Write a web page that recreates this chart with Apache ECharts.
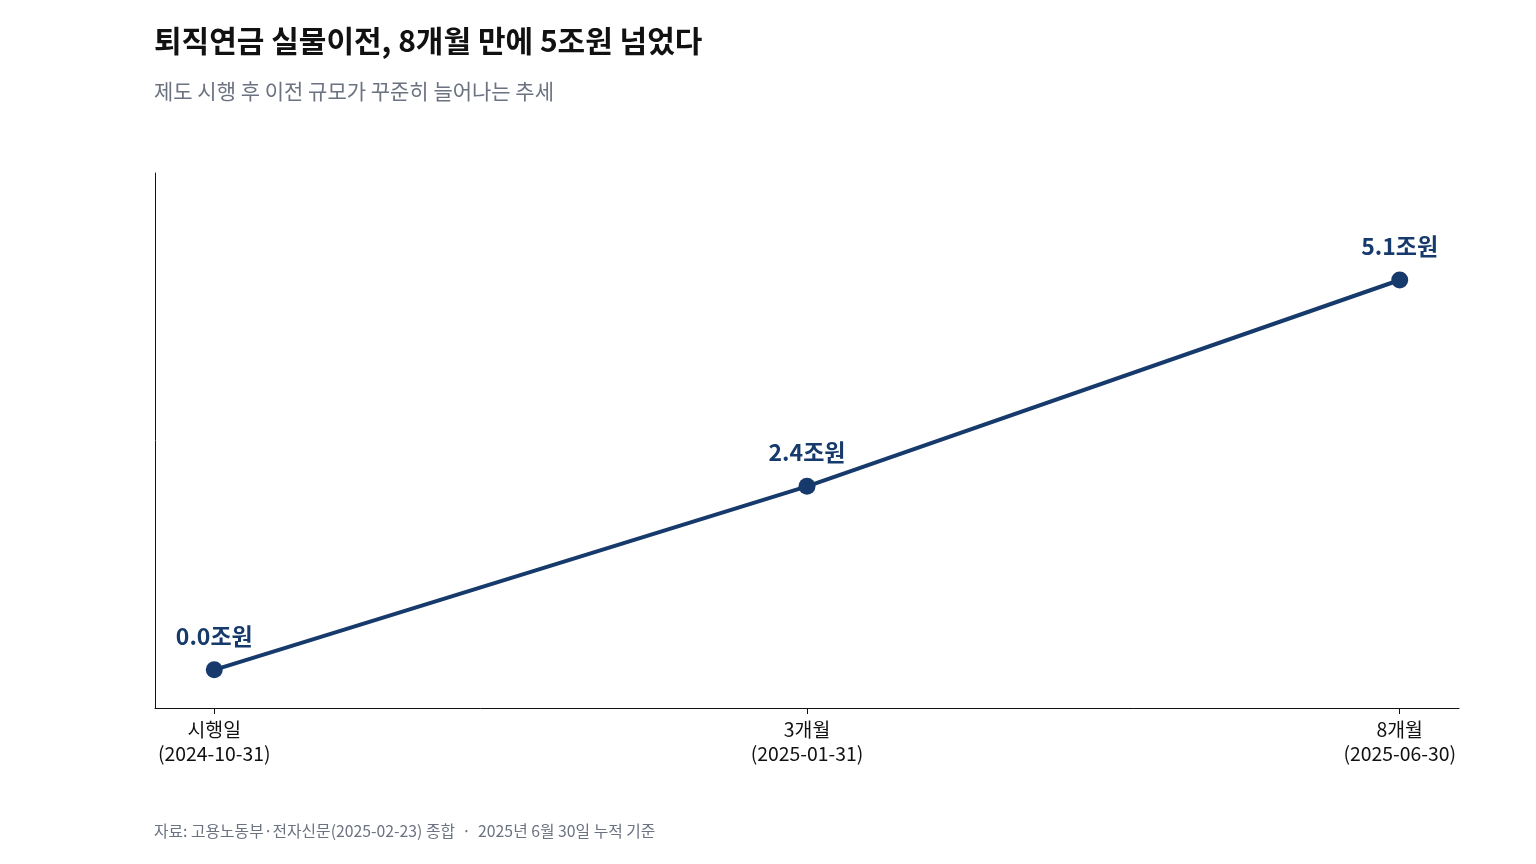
<!DOCTYPE html>
<html>
<head>
<meta charset="utf-8">
<script src="https://cdn.jsdelivr.net/npm/echarts@6/dist/echarts.min.js"></script>
<style>
  html, body { margin: 0; padding: 0; background: #fff; }
  #chart { width: 1536px; height: 864px; }
</style>
</head>
<body>
<div id="chart"></div>
<script>
// 퇴직연금 실물이전 누적 규모
const categories = ['시행일\n(2024-10-31)', '3개월\n(2025-01-31)', '8개월\n(2025-06-30)'];
const values = [0.0, 2.4, 5.1];

const navy = '#163a6b';
const font = '"Noto Sans CJK KR", "Noto Sans", sans-serif';

const chart = echarts.init(document.getElementById('chart'));

const option = {
  backgroundColor: '#fff',
  textStyle: { fontFamily: font },
  title: [{
    text: '퇴직연금 실물이전, 8개월 만에 5조원 넘었다',
    left: 154, top: 26, padding: 0,
    textStyle: { fontSize: 30, fontWeight: 'bold', color: '#111', fontFamily: font }
  }, {
    text: '제도 시행 후 이전 규모가 꾸준히 늘어나는 추세',
    left: 154, top: 81, padding: 0,
    textStyle: { fontSize: 21, fontWeight: 'normal', color: '#6b7280', fontFamily: font }
  }, {
    text: '자료: 고용노동부·전자신문(2025-02-23) 종합  ·  2025년 6월 30일 누적 기준',
    left: 154, top: 823, padding: 0,
    textStyle: { fontSize: 15.8, fontWeight: 'normal', color: '#6b7280', fontFamily: font }
  }],
  grid: { left: 155, right: 77, top: 173, bottom: 156, containLabel: false },
  xAxis: {
    type: 'value',
    min: -0.1,
    max: 2.1,
    splitLine: { show: false },
    axisLine: { show: true, onZero: false, lineStyle: { color: '#111', width: 1 } },
    axisTick: { show: true, customValues: [0, 1, 2], length: 6, lineStyle: { color: '#111' } },
    axisLabel: {
      customValues: [0, 1, 2],
      formatter: v => categories[Math.round(v)],
      color: '#111', fontSize: 19.4, lineHeight: 24, margin: 10, fontFamily: font
    }
  },
  yAxis: {
    type: 'value',
    min: -0.5,
    max: 6.5,
    splitLine: { show: false },
    axisLine: { show: true, onZero: false, lineStyle: { color: '#111', width: 1 } },
    axisTick: { show: false },
    axisLabel: { show: false }
  },
  series: [{
    type: 'line',
    data: values.map((v, i) => [i, v]),
    lineStyle: { color: navy, width: 4 },
    itemStyle: { color: navy },
    symbol: 'circle',
    symbolSize: 17,
    label: {
      show: true,
      position: 'top',
      distance: 14,
      formatter: p => p.value[1].toFixed(1) + '조원',
      color: navy, fontSize: 23, fontWeight: 'bold', fontFamily: font
    },
    animation: false
  }]
};

chart.setOption(option);
</script>
</body>
</html>
